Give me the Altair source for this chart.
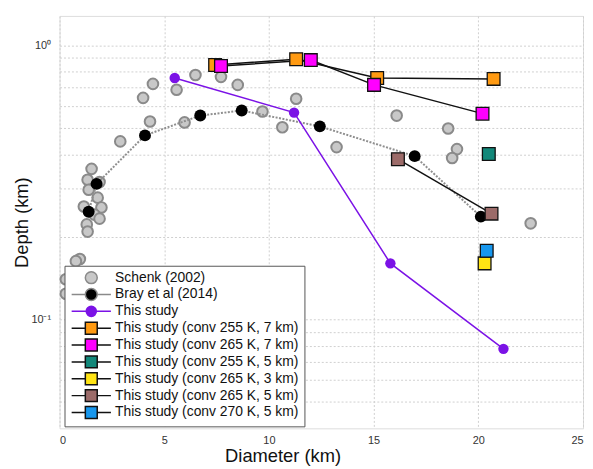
import altair as alt
import pandas as pd

# ---------------- data ----------------
schenk_d = [4.46, 3.99, 6.49, 5.59, 7.71, 8.51, 4.32, 5.97, 2.90, 9.69, 10.64, 11.30, 13.23,
            16.10, 18.56, 18.98, 18.75, 22.50,
            1.53, 1.34, 1.91, 1.39, 1.82, 1.16, 2.00, 1.67, 1.91, 1.30, 1.34, 0.97, 0.78, 0.30, 0.30]
schenk_h = [0.723, 0.643, 0.779, 0.688, 0.767, 0.717, 0.527, 0.523, 0.446, 0.573, 0.502, 0.638, 0.425,
            0.554, 0.497, 0.418, 0.388, 0.224,
            0.354, 0.323, 0.317, 0.297, 0.278, 0.258, 0.256, 0.241, 0.233, 0.222, 0.209, 0.166, 0.163, 0.140, 0.124]

bray_d = [1.39, 1.77, 4.08, 6.72, 8.70, 12.43, 16.96, 20.12]
bray_h = [0.247, 0.312, 0.469, 0.554, 0.578, 0.506, 0.394, 0.237]

study_d = [5.5, 11.2, 15.8, 21.2]
study_h = [0.76, 0.568, 0.160, 0.078]

c255_7_d = [7.43, 11.30, 15.17, 20.73]
c255_7_h = [0.847, 0.890, 0.760, 0.754]
c265_7_d = [7.71, 12.00, 15.02, 20.20]
c265_7_h = [0.840, 0.883, 0.717, 0.563]
c255_5_d = [20.50]
c255_5_h = [0.401]
c265_3_d = [20.30]
c265_3_h = [0.160]
c265_5_d = [16.16, 20.63]
c265_5_h = [0.384, 0.243]
c270_5_d = [20.40]
c270_5_h = [0.178]

names = ["Schenk (2002)", "Bray et al (2014)", "This study",
         "This study (conv 255 K, 7 km)", "This study (conv 265 K, 7 km)",
         "This study (conv 255 K, 5 km)", "This study (conv 265 K, 3 km)",
         "This study (conv 265 K, 5 km)", "This study (conv 270 K, 5 km)"]
fills = ["#c8c8c8", "#000000", "#7b12e6", "#ff9a12", "#ff00ff", "#12887a", "#ffe414", "#9c6b69", "#1797ee"]
strokes = ["#8a8a8a", "#8a8a8a", "#7b12e6", "#111111", "#111111", "#111111", "#111111", "#111111", "#111111"]

sq = "M-1,-1L1,-1L1,1L-1,1Z M-3.3,0L-1,0 M1,0L3.3,0"
circ_line = "M-3.3,0L-1,0 M1,0L3.3,0 M1,0A1,1,0,1,1,-1,0A1,1,0,1,1,1,0Z"
circ_small = "M-3.3,0L-0.85,0 M0.85,0L3.3,0 M0.85,0A0.85,0.85,0,1,1,-0.85,0A0.85,0.85,0,1,1,0.85,0Z"
circ_only = "M1,0A1,1,0,1,1,-1,0A1,1,0,1,1,1,0Z"
shapes = [circ_only, circ_line, circ_small, sq, sq, sq, sq, sq, sq]

# ---------------- frames ----------------
def frame(ds, hs, name):
    return pd.DataFrame({"d": ds, "h": hs, "series": name})

schenk = frame(schenk_d, schenk_h, names[0])
bray = frame(bray_d, bray_h, names[1])
study = frame(study_d, study_h, names[2])
sq_frames = [
    frame(c255_7_d, c255_7_h, names[3]),
    frame(c265_7_d, c265_7_h, names[4]),
    frame(c255_5_d, c255_5_h, names[5]),
    frame(c265_3_d, c265_3_h, names[6]),
    frame(c265_5_d, c265_5_h, names[7]),
    frame(c270_5_d, c270_5_h, names[8]),
]
allpts = pd.concat([schenk, bray, study] + sq_frames, ignore_index=True)

font = "Liberation Sans"

xenc = alt.X("d:Q", scale=alt.Scale(domain=[0, 25], nice=False, zero=False),
             axis=alt.Axis(values=[0, 5, 10, 15, 20, 25], title="Diameter (km)",
                           titleFontSize=18.5, titleFontWeight="normal", titleFont=font,
                           titleColor="#111", titleX=225, titleY=33, titleBaseline="alphabetic",
                           labelFont=font, labelFontSize=11, labelColor="#333",
                           tickSize=0, labelPadding=6, domain=False,
                           grid=True, gridColor="#cfcfcf", gridDash=[2, 2], gridWidth=1))
yvals = [0.05, 0.06, 0.07, 0.08, 0.09, 0.1, 0.2, 0.3, 0.4, 0.5, 0.6, 0.7, 0.8, 0.9, 1.0]
yenc = alt.Y("h:Q", scale=alt.Scale(type="log", domain=[0.04, 1.28], nice=False),
             axis=alt.Axis(values=yvals, title="Depth (km)",
                           labelExpr="abs(datum.value-1)<1e-9 ? '10⁰' : (abs(datum.value-0.1)<1e-9 ? '10⁻¹' : '')",
                           titleFontSize=18.5, titleFontWeight="normal", titleFont=font,
                           titleColor="#111", titleX=-38, titleY=208, titleAngle=-90,
                           titleAlign="center", titleBaseline="middle",
                           labelFont=font, labelFontSize=11, labelColor="#333",
                           tickSize=0, labelPadding=9, domain=False,
                           grid=True, gridColor="#cfcfcf", gridDash=[2, 2], gridWidth=1))

base_x = alt.X("d:Q")
base_y = alt.Y("h:Q")

schenk_layer = alt.Chart(schenk).mark_circle(size=115, fill="#c8c8c8", stroke="#8a8a8a",
                                             strokeWidth=2, opacity=1).encode(x=xenc, y=yenc)

bray_line = alt.Chart(bray).mark_line(color="#8f8f8f", strokeDash=[2, 1.5], strokeWidth=2).encode(
    x=base_x, y=base_y, order="d:Q")
bray_pts = alt.Chart(bray).mark_circle(size=145, color="#000000", opacity=1).encode(x=base_x, y=base_y)

study_line = alt.Chart(study).mark_line(color="#7b12e6", strokeWidth=1.5).encode(
    x=base_x, y=base_y, order="d:Q")
study_pts = alt.Chart(study).mark_circle(size=110, color="#7b12e6", opacity=1).encode(x=base_x, y=base_y)

sq_layers = []
for f, col in zip(sq_frames, fills[3:]):
    if len(f) > 1:
        sq_layers.append(alt.Chart(f).mark_line(color="#111111", strokeWidth=1.5).encode(
            x=base_x, y=base_y, order="d:Q"))
for f, col in zip(sq_frames, fills[3:]):
    sq_layers.append(alt.Chart(f).mark_square(size=165, fill=col, stroke="#111111",
                                              strokeWidth=1.3, opacity=1).encode(x=base_x, y=base_y))

legend = alt.Legend(title=None, orient="none", legendX=5, legendY=252, fillColor="white",
                    strokeColor="#555555", padding=5, labelFont=font, labelFontSize=14,
                    labelColor="#111", labelLimit=400, symbolSize=144, symbolStrokeWidth=1.5,
                    symbolOffset=15, labelOffset=17, rowPadding=-1)

# legend-only layer: positioned below the visible range and clipped away
legend_layer = alt.Chart(allpts).transform_calculate(h="0.001").mark_point(
    filled=True, opacity=1, clip=True).encode(
    x=base_x, y=base_y,
    fill=alt.Fill("series:N", scale=alt.Scale(domain=names, range=fills), legend=legend),
    stroke=alt.Stroke("series:N", scale=alt.Scale(domain=names, range=strokes), legend=legend),
    shape=alt.Shape("series:N", scale=alt.Scale(domain=names, range=shapes), legend=legend),
)

chart = alt.layer(
    schenk_layer, bray_line, bray_pts, study_line, study_pts, *sq_layers, legend_layer
).properties(
    width=528, height=416,
    autosize=alt.AutoSizeParams(type="none"),
    padding={"left": 52, "top": 6, "right": 2, "bottom": 36},
).configure_view(stroke="#999999", strokeWidth=1.5).configure(background="white")

chart.save("out.html", embed_options={"renderer": "svg", "actions": False})
